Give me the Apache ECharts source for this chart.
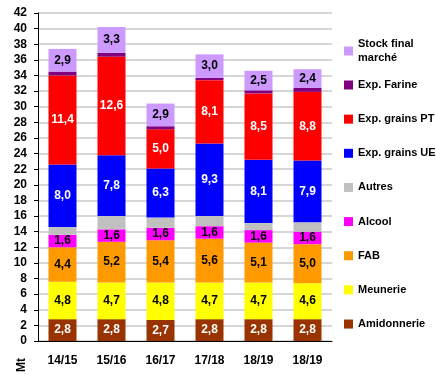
<!DOCTYPE html>
<html>
<head>
<meta charset="utf-8">
<script src="https://cdn.jsdelivr.net/npm/echarts@6/dist/echarts.min.js"></script>
<style>
  html, body { margin: 0; padding: 0; background: #ffffff; }
  #chart { width: 436px; height: 374px; }
</style>
</head>
<body>
<div id="chart"></div>
<script>
// Campaigns (x axis)
const campagnes = ['14/15', '15/16', '16/17', '17/18', '18/19', '18/19'];

// Uses, in Mt, stacked from bottom to top
const amidonnerie = [2.8, 2.8, 2.7, 2.8, 2.8, 2.8];
const meunerie    = [4.8, 4.7, 4.8, 4.7, 4.7, 4.6];
const fab         = [4.4, 5.2, 5.4, 5.6, 5.1, 5.0];
const alcool      = [1.6, 1.6, 1.6, 1.6, 1.6, 1.6];
const autres      = [1.0, 1.7, 1.3, 1.3, 0.9, 1.2];
const expGrainsUE = [8.0, 7.8, 6.3, 9.3, 8.1, 7.9];
const expGrainsPT = [11.4, 12.6, 5.0, 8.1, 8.5, 8.8];
const expFarine   = [0.5, 0.5, 0.4, 0.3, 0.4, 0.5];
const stockFinal  = [2.9, 3.3, 2.9, 3.0, 2.5, 2.4];

// Y axis scale
const yMin = 0, yMax = 42, yStep = 2;

const FONT = '"Liberation Sans", Arial, sans-serif';

function fr(v) { return v.toFixed(1).replace('.', ','); }

function layer(name, data, color, labelColor) {
  return {
    name: name,
    type: 'bar',
    stack: 'total',
    data: data,
    barWidth: 28,
    itemStyle: { color: color },
    label: labelColor ? {
      show: true,
      position: 'inside',
      color: labelColor,
      fontFamily: FONT,
      fontWeight: 'bold',
      fontSize: 12,
      formatter: p => fr(p.value)
    } : { show: false },
    emphasis: { disabled: true }
  };
}

const series = [
  layer('Amidonnerie', amidonnerie, '#993300', '#ffffff'),
  layer('Meunerie', meunerie, '#ffff00', '#000000'),
  layer('FAB', fab, '#ff9900', '#000000'),
  layer('Alcool', alcool, '#ff00ff', '#000000'),
  layer('Autres', autres, '#c0c0c0', null),
  layer('Exp. grains UE', expGrainsUE, '#0000ff', '#ffffff'),
  layer('Exp. grains PT', expGrainsPT, '#ff0000', '#ffffff'),
  layer('Exp. Farine', expFarine, '#800080', null),
  layer('Stock final marché', stockFinal, '#cc99ff', '#000000')
];

const legendText = { fontFamily: FONT, fontWeight: 'bold', fontSize: 11, color: '#000000', lineHeight: 14 };

const option = {
  animation: false,
  backgroundColor: '#ffffff',
  grid: { left: 38, right: 104, top: 13, bottom: 33, containLabel: false },
  legend: [
    {
      orient: 'vertical',
      left: 344,
      top: 30,
      padding: 0,
      itemWidth: 9,
      itemHeight: 9,
      selectedMode: false,
      textStyle: legendText,
      data: [{
        name: 'Stock final marché',
        icon: 'rect',
        textStyle: { padding: [14, 0, 0, 0] }
      }],
      formatter: () => 'Stock final\nmarché'
    },
    {
      orient: 'vertical',
      left: 344,
      top: 78,
      padding: 0,
      itemWidth: 9,
      itemHeight: 9,
      itemGap: 20.15,
      selectedMode: false,
      textStyle: legendText,
      data: ['Exp. Farine', 'Exp. grains PT', 'Exp. grains UE', 'Autres',
             'Alcool', 'FAB', 'Meunerie', 'Amidonnerie'].map(n => ({ name: n, icon: 'rect' }))
    }
  ],
  xAxis: {
    type: 'category',
    data: campagnes,
    axisLine: { lineStyle: { color: '#000000', width: 1 } },
    axisTick: { show: false },
    axisLabel: { color: '#000000', fontFamily: FONT, fontWeight: 'bold', fontSize: 12, margin: 14 },
    splitLine: { show: false }
  },
  yAxis: {
    type: 'value',
    min: yMin,
    max: yMax,
    interval: yStep,
    axisLine: { show: true, lineStyle: { color: '#000000', width: 1 } },
    axisTick: { show: true, length: 4, lineStyle: { color: '#000000' } },
    axisLabel: { color: '#000000', fontFamily: FONT, fontWeight: 'bold', fontSize: 12, margin: 11 },
    splitLine: { show: true, lineStyle: { color: '#c8c8c8', width: 1.5 } }
  },
  graphic: [{
    type: 'text',
    x: 16,
    y: 372,
    rotation: Math.PI / 2,
    style: { text: 'Mt', fontFamily: FONT, fontWeight: 'bold', fontSize: 12, fill: '#000000' }
  }],
  series: series
};

const chart = echarts.init(document.getElementById('chart'), null, { renderer: 'canvas' });
chart.setOption(option);
</script>
</body>
</html>
